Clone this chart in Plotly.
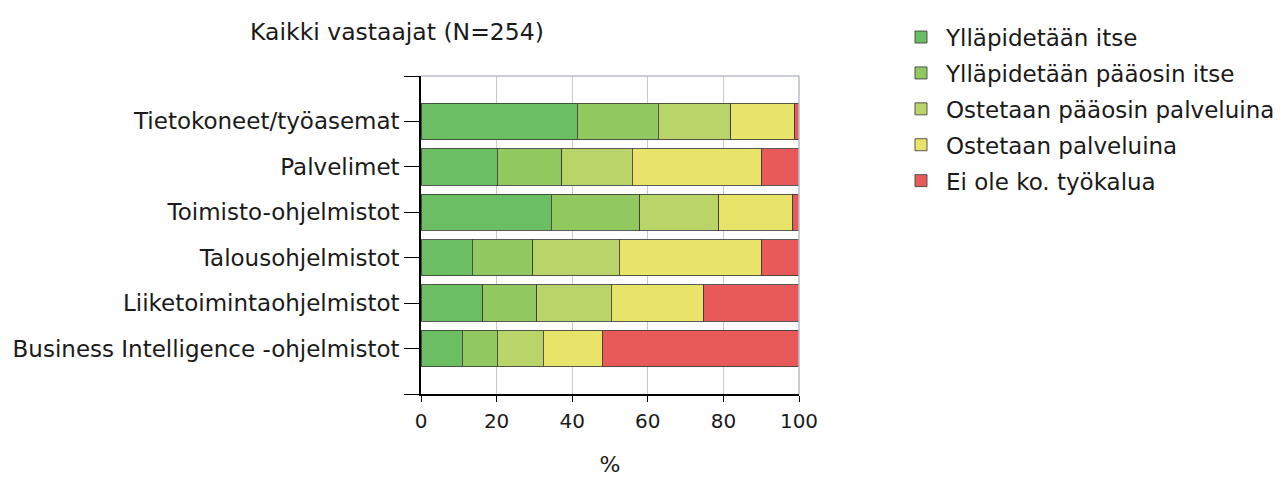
import plotly.graph_objects as go

categories = [
    "Tietokoneet/työasemat",
    "Palvelimet",
    "Toimisto-ohjelmistot",
    "Talousohjelmistot",
    "Liiketoimintaohjelmistot",
    "Business Intelligence -ohjelmistot",
]
series_names = [
    "Ylläpidetään itse",
    "Ylläpidetään pääosin itse",
    "Ostetaan pääosin palveluina",
    "Ostetaan palveluina",
    "Ei ole ko. työkalua",
]
s1 = [41.4, 20.2, 34.5, 13.6, 16.3, 10.9]
s2 = [21.4, 17.1, 23.4, 15.9, 14.3, 9.3]
s3 = [19.1, 18.6, 20.9, 22.9, 19.7, 12.1]
s4 = [17.0, 34.3, 19.6, 37.8, 24.5, 15.7]
s5 = [1.1, 9.8, 1.6, 9.8, 25.2, 52.0]
x_ticks = [0, 20, 40, 60, 80, 100]
title_text = "Kaikki vastaajat (N=254)"
x_title = "%"

colors = ["#6cbe62", "#91c85f", "#b9d469", "#e8e469", "#e85a5a"]
series = [s1, s2, s3, s4, s5]

FONT = "DejaVu Sans"
TXT = "#1a1a1a"
y_idx = list(range(len(categories)))

# page body has an 8px default margin; compensate in figure size
W, H = 1277, 469

fig = go.Figure()
for name, vals, col in zip(series_names, series, colors):
    fig.add_trace(go.Bar(
        x=vals, y=y_idx, orientation="h", name=name,
        legendgroup=name,
        marker=dict(color=col, line=dict(color="rgba(60,60,60,0.85)", width=1)),
        width=0.8,
    ))

fig.update_layout(
    barmode="stack",
    width=W, height=H,
    margin=dict(l=413, r=486, t=68, b=83, autoexpand=False),
    plot_bgcolor="white", paper_bgcolor="white",
    font=dict(family=FONT, size=23, color=TXT),
    title=dict(text=title_text, x=389 / W, xref="container", xanchor="center",
               y=1 - 24 / H, yref="container", yanchor="middle",
               font=dict(family=FONT, size=23.5, color=TXT)),
    legend=dict(x=1.2566, y=1.19, xanchor="left", yanchor="top",
                traceorder="grouped", tracegroupgap=3,
                font=dict(family=FONT, size=23, color=TXT),
                bgcolor="rgba(0,0,0,0)", itemwidth=40),
    showlegend=True,
    xaxis=dict(range=[0, 100], tickvals=x_ticks, showgrid=True, gridcolor="#c8c8c8",
               gridwidth=1, zeroline=False, showline=True, linecolor="black", linewidth=1.5,
               ticks="outside", ticklen=6, tickcolor="black", ticklabelstandoff=2,
               tickfont=dict(family=FONT, size=20, color=TXT),
               title=dict(text=x_title, standoff=29, font=dict(family=FONT, size=22, color=TXT)),
               fixedrange=True),
    yaxis=dict(range=[len(categories), -1],
               tickvals=[-1] + y_idx + [len(categories)],
               ticktext=[""] + categories + [""],
               showgrid=False, zeroline=False, showline=True, linecolor="black", linewidth=1.5,
               ticks="outside", ticklen=15, tickcolor="black", fixedrange=True),
    shapes=[
        dict(type="line", xref="paper", yref="paper", x0=0, x1=1, y0=1, y1=1,
             line=dict(color="#b8bec6", width=1.5)),
        dict(type="line", xref="paper", yref="paper", x0=1, x1=1, y0=0, y1=1,
             line=dict(color="#b8bec6", width=1.5)),
    ],
)

fig.write_html("out.html")
